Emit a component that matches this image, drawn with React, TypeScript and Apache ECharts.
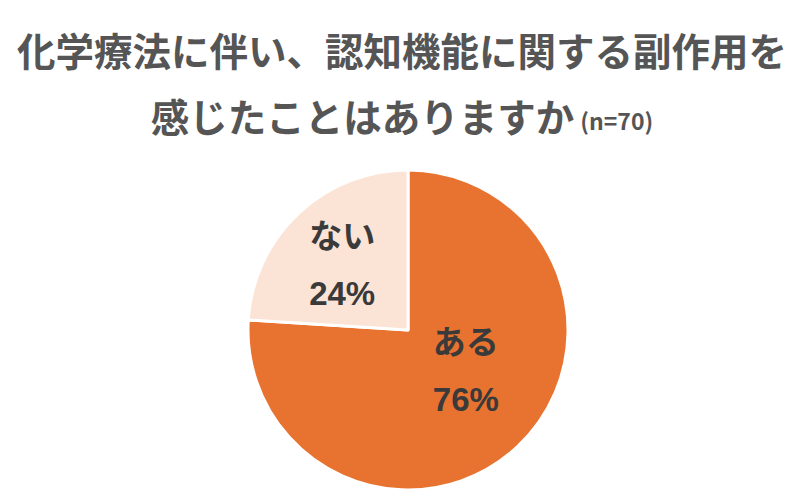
import { useEffect, useRef } from 'react';
import * as echarts from 'echarts';

const categories = ['ある', 'ない'];
const shares = [76, 24];
const sliceColors = ['#E8722F', '#FBE3D6'];
const titleLine1 = '化学療法に伴い、認知機能に関する副作用を';
const titleLine2 = '感じたことはありますか';
const sampleNote = '(n=70)';

const JP_FONT = "'Noto Sans CJK JP', 'Noto Sans', sans-serif";
const LABEL_FONT = "'Liberation Sans', 'Noto Sans CJK JP', sans-serif";

export default function App() {
  const chartRef = useRef<HTMLDivElement>(null);

  useEffect(() => {
    document.body.style.margin = '0';
    if (!chartRef.current) return;
    const chart = echarts.init(chartRef.current, undefined, { renderer: 'svg' });

    chart.setOption({
      animation: false,
      backgroundColor: '#ffffff',
      title: {
        text: `${titleLine1}\n${titleLine2}{n|${sampleNote}}`,
        left: 397,
        textAlign: 'center',
        top: 11,
        textStyle: {
          color: '#555555',
          fontFamily: JP_FONT,
          fontWeight: 'bold',
          fontSize: 38.5,
          lineHeight: 66,
          rich: {
            n: {
              color: '#555555',
              fontFamily: JP_FONT,
              fontWeight: 'bold',
              fontSize: 23,
              lineHeight: 66,
              padding: [10, 0, 0, 6],
            },
          },
        },
      },
      series: [
        {
          type: 'pie',
          center: [408, 330],
          radius: [0, 160],
          startAngle: 90,
          clockwise: true,
          silent: true,
          itemStyle: { borderColor: '#ffffff', borderWidth: 3 },
          label: {
            position: 'inside',
            formatter: (p: any) => `${p.name}\n${p.value}%`,
            color: '#3a3a3a',
            fontFamily: LABEL_FONT,
            fontWeight: 'bold',
            fontSize: 33,
            lineHeight: 57,
          },
          labelLine: { show: false },
          labelLayout: (p: any) =>
            p.dataIndex === 0 ? { dx: 1, dy: -20 } : { dx: -9, dy: -4 },
          data: categories.map((name, i) => ({
            name,
            value: shares[i],
            itemStyle: { color: sliceColors[i] },
          })),
        },
      ],
    });

    return () => chart.dispose();
  }, []);

  return <div ref={chartRef} style={{ width: 806, height: 496 }} />;
}
